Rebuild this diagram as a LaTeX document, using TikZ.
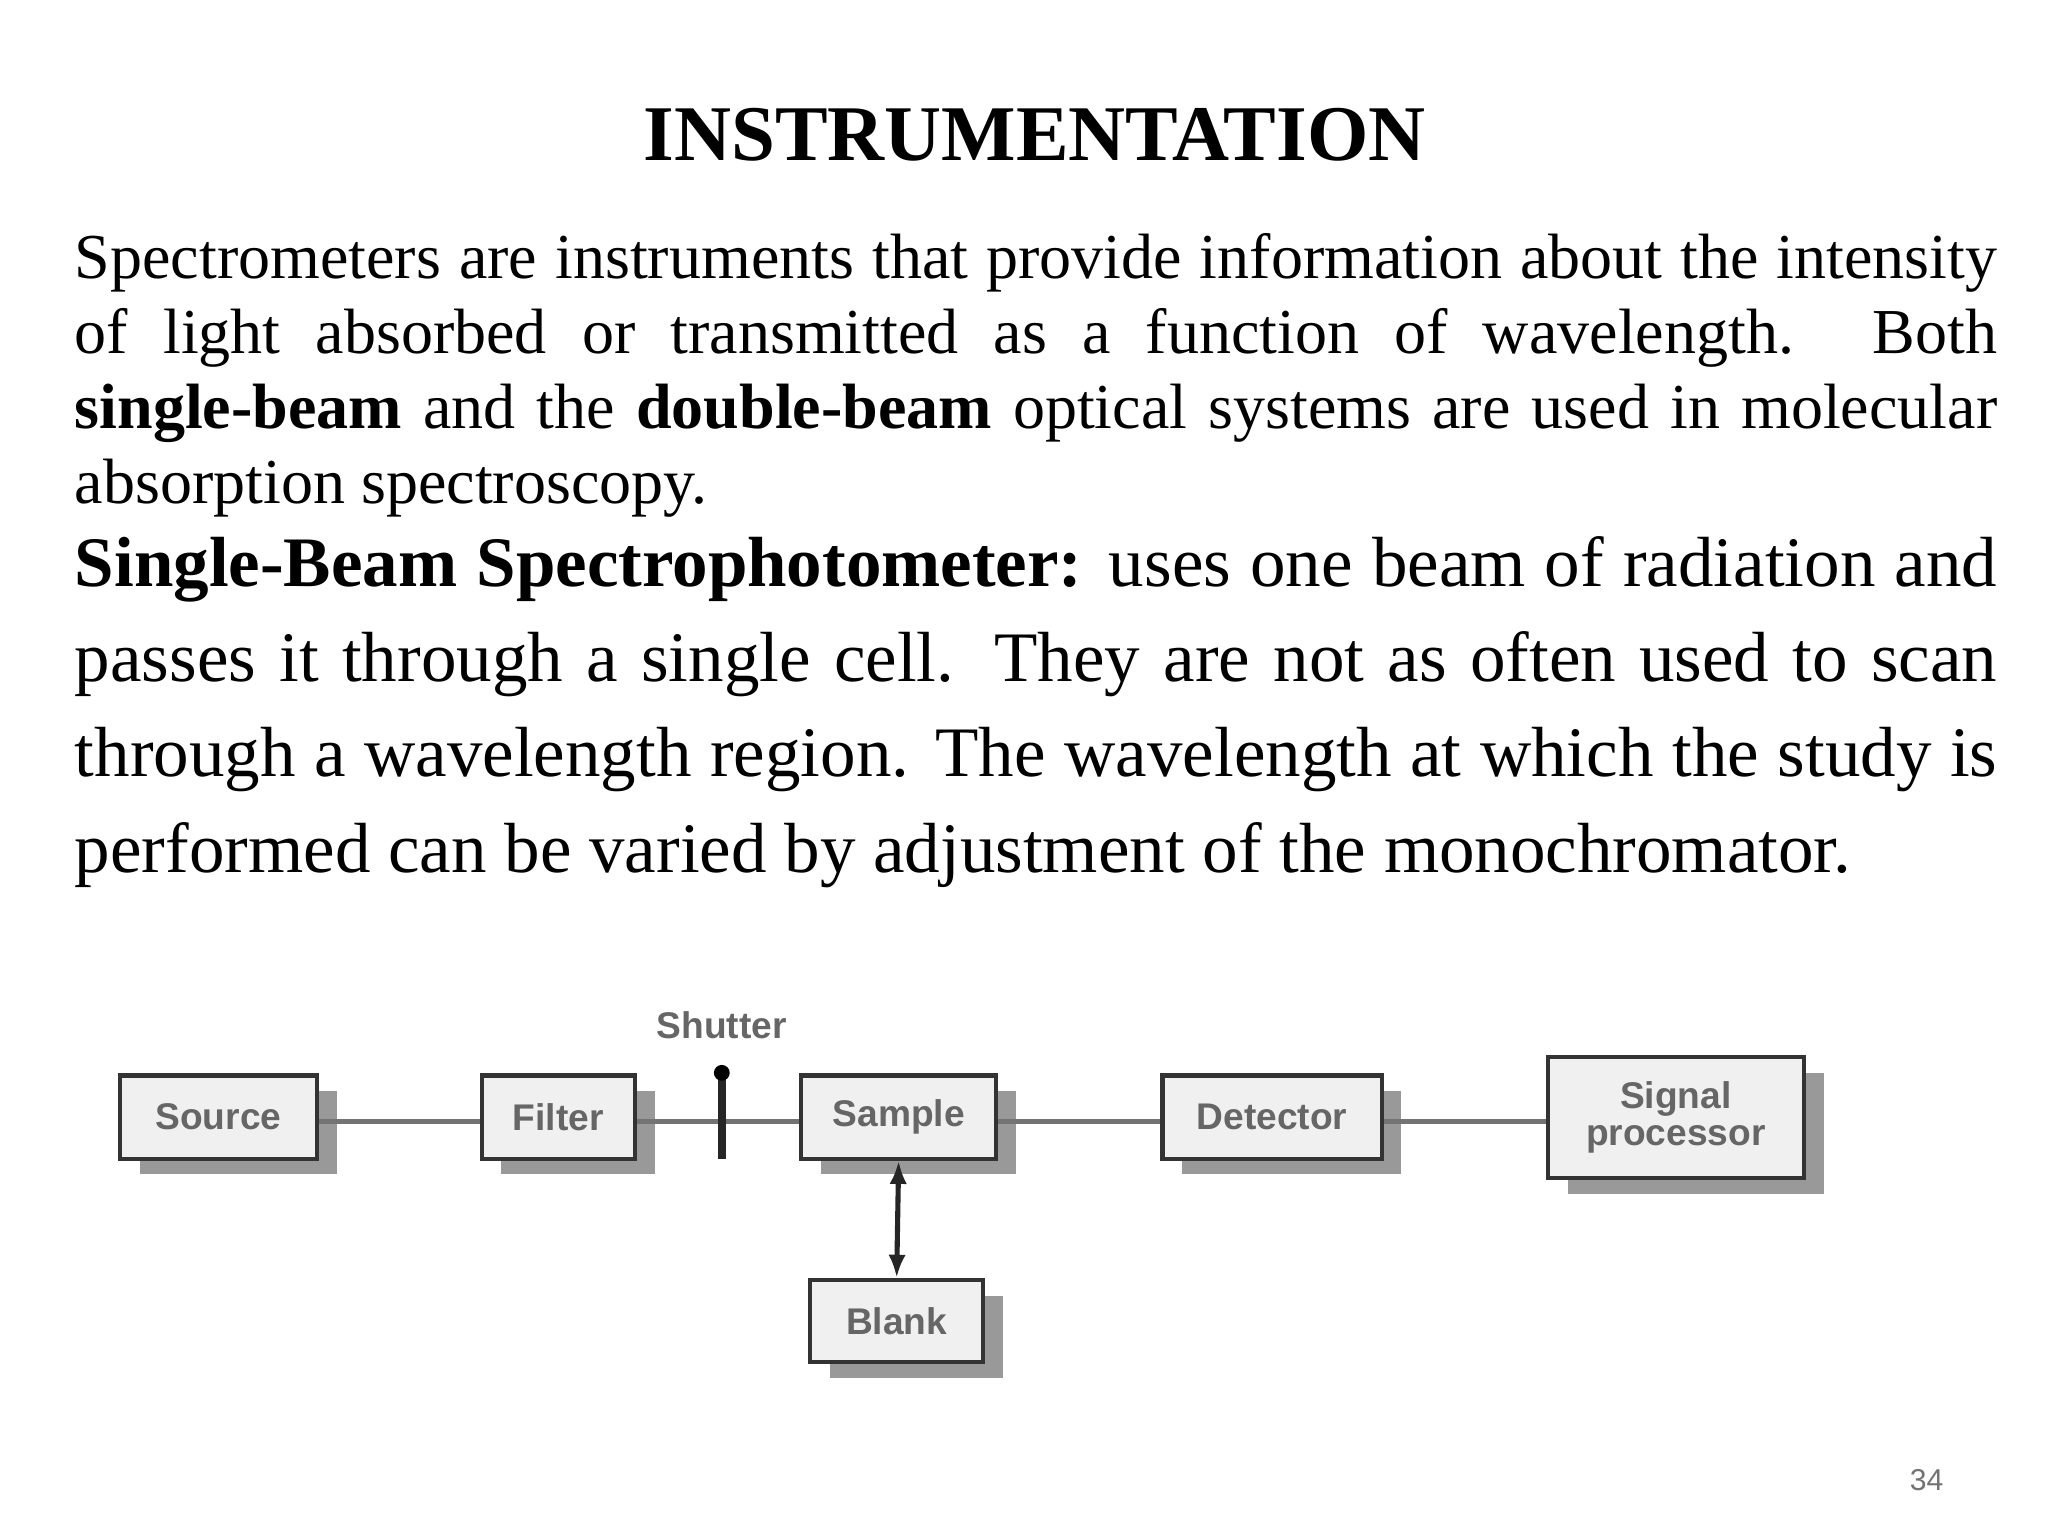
\documentclass[tikz,border=0pt]{standalone}
\usepackage{fontspec}
\setmainfont{Liberation Serif}
\newfontfamily\diag{Liberation Sans}
\usetikzlibrary{arrows.meta}
\begin{document}
\begin{tikzpicture}[x=0.01cm,y=-0.01cm,
  blk/.style={draw=black!80,line width=0.9pt,fill=black!6,font=\diag\fontsize{8}{9}\selectfont\bfseries,text=black!60},
  shd/.style={fill=black!40},
  wire/.style={draw=black!55,line width=1.2pt},
  para/.style={anchor=north west,text width=14.56cm,align=justify,inner sep=0pt}]
\useasboundingbox (0,0) rectangle (1552,1164);
\node (title) at (784,102) {\fontsize{17}{20}\selectfont\bfseries INSTRUMENTATION};
\node[para] (p1) at (56,176) {\hyphenpenalty=10000\exhyphenpenalty=0\fontsize{13.8}{16.2}\selectfont Spectrometers are instruments that provide information about the intensity of light absorbed or transmitted as a function of wavelength. Both \textbf{single-\allowbreak beam} and the \textbf{double-beam} optical systems are used in molecular absorption spectroscopy.\par};
\node[para] (p2) at (56,406) {\hyphenpenalty=10000\fontsize{15.3}{20.5}\selectfont \textbf{Single-Beam Spectrophotometer:} uses one beam of radiation and passes it through a single cell. They are not as often used to scan through a wavelength region. The wavelength at which the study is performed can be varied by adjustment of the monochromator.\par};
% shadows
\foreach \a/\b/\c/\d in {91/815/240/878, 365/815/481/878, 607/815/755/878, 881/815/1047/878, 1173/801/1367/893, 614/970/745/1032}
  \fill[shd] (\a+15,\b+12) rectangle (\c+15,\d+12);
\draw[wire] (240,850) -- (365,850);
\draw[wire] (481,850) -- (607,850);
\draw[wire] (755,850) -- (881,850);
\draw[wire] (1047,850) -- (1173,850);
\node[blk,minimum width=149*0.01cm,minimum height=63*0.01cm] (src) at (165.5,846.5) {Source};
\node[blk,minimum width=116*0.01cm,minimum height=63*0.01cm] (fil) at (423,846.5) {Filter};
\node[blk,minimum width=148*0.01cm,minimum height=63*0.01cm] (smp) at (681,846.5) {Sample};
\node[blk,minimum width=166*0.01cm,minimum height=63*0.01cm] (det) at (964,846.5) {Detector};
\node[blk,minimum width=194*0.01cm,minimum height=92*0.01cm,align=center] (sig) at (1270,847) {Signal\\[-1pt]processor};
\node[blk,minimum width=131*0.01cm,minimum height=62*0.01cm] (blk) at (679.5,1001) {Blank};
\coordinate (shT) at (547,813);
\coordinate (shB) at (547,878);
\draw[line width=1.8pt,black!85] (shT) -- (shB);
\fill[black] (shT) circle (6);
\node[font=\diag\fontsize{8}{9}\selectfont\bfseries,text=black!60] (shl) at (547,777) {Shutter};
\draw[line width=1.1pt,black!85,{Latex[length=5pt]}-{Latex[length=5pt]}] (smp.south) -- (blk.north);
\node[font=\diag\fontsize{6.5}{8}\selectfont,text=black!55] (pg) at (1460,1122) {34};
\end{tikzpicture}
\end{document}
